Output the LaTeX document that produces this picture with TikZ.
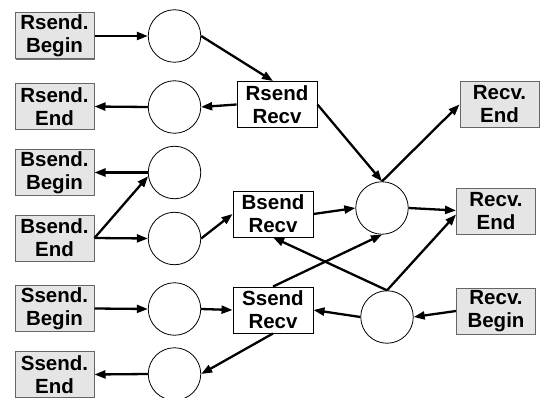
\documentclass[tikz,border=0pt]{standalone}
\usepackage{fontspec}
\setmainfont{Liberation Sans}
\usetikzlibrary{arrows.meta,shadows}
\begin{document}
\begin{tikzpicture}[x=1pt,y=-1pt,
  lbl/.style={font=\fontsize{20.5}{23}\selectfont\bfseries, align=center, inner sep=0pt},
  gbox/.style={lbl, draw=black!60, fill=black!10, line width=1pt, minimum width=79pt, minimum height=46pt,
    drop shadow={shadow xshift=0.9pt, shadow yshift=-0.9pt, fill=black!55, opacity=1}},
  wbox/.style={lbl, draw=black, fill=white, line width=0.9pt, minimum width=80pt, minimum height=46pt,
    drop shadow={shadow xshift=0.7pt, shadow yshift=-0.7pt, fill=black!45, opacity=1}},
  st/.style={circle, draw=black, line width=0.8pt, minimum size=52.5pt, inner sep=0pt, fill=white},
  arr/.style={-{Triangle[length=11pt,width=8pt]}, line width=2.3pt}]
\useasboundingbox (0,0) rectangle (540,398);
% left boxes
\node[gbox] (lb1) at (54.5,36) {Rsend.\\Begin};
\node[gbox] (lb2) at (54.5,106.5) {Rsend.\\End};
\node[gbox] (lb3) at (54.5,172.5) {Bsend.\\Begin};
\node[gbox] (lb4) at (54.5,238) {Bsend.\\End};
\node[gbox] (lb5) at (54.5,308.5) {Ssend.\\Begin};
\node[gbox] (lb6) at (54.5,374.5) {Ssend.\\End};
% left circles
\node[st] (c1) at (174.5,36) {};
\node[st] (c2) at (174.5,107) {};
\node[st] (c3) at (174.5,172.5) {};
\node[st] (c4) at (174.5,238.5) {};
\node[st] (c5) at (174.5,309) {};
\node[st] (c6) at (174.5,374) {};
% middle boxes
\node[wbox] (rr) at (277,104.5) {Rsend\\Recv};
\node[wbox] (br) at (273,214) {Bsend\\Recv};
\node[wbox] (sr) at (273,310) {Ssend\\Recv};
% middle circles
\node[st] (ca) at (382,208) {};
\node[st] (cb) at (387,317) {};
% right boxes
\node[gbox] (re1) at (499.5,104.5) {Recv.\\End};
\node[gbox] (re2) at (496,211.5) {Recv.\\End};
\node[gbox] (rb) at (496,311) {Recv.\\Begin};
% arrows
\draw[arr] (lb1.east) -- (c1.west);
\draw[arr] (c1.east) -- ([xshift=-4pt]rr.north);
\draw[arr] (rr.west) -- (c2.east);
\draw[arr] (c2.west) -- (lb2.east);
\draw[arr] (c3.west) -- (lb3.east);
\draw[arr] (lb4.east) -- (c3.188);
\draw[arr] (lb4.east) -- (c4.west);
\draw[arr] (c4.east) -- (br.west);
\draw[arr] (br.east) -- (ca.west);
\draw[arr] (rr.east) -- (ca.north);
\draw[arr] (ca.north) -- (re1.west);
\draw[arr] (ca.east) -- ([yshift=1pt]re2.west);
\draw[arr] (sr.north) -- (ca.south);
\draw[arr] (cb.north) -- (br.south);
\draw[arr] (cb.north) -- ([yshift=-3pt]re2.west);
\draw[arr] (rb.west) -- (cb.east);
\draw[arr] (cb.west) -- (sr.east);
\draw[arr] (lb5.east) -- (c5.west);
\draw[arr] (c5.east) -- (sr.west);
\draw[arr] (sr.south) -- (c6.east);
\draw[arr] (c6.west) -- (lb6.east);
\end{tikzpicture}
\end{document}
